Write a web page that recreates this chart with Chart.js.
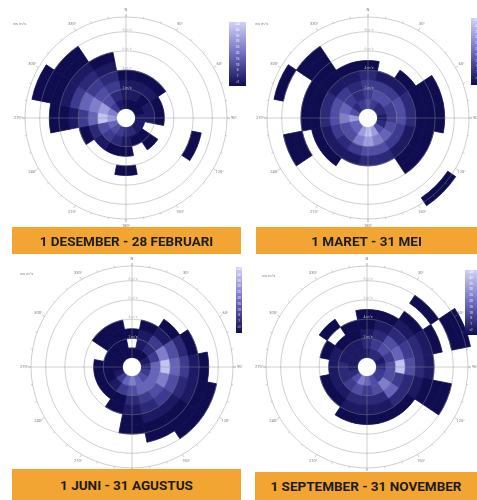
<!DOCTYPE html>
<html>
<head>
<meta charset="utf-8">
<script src="https://cdn.jsdelivr.net/npm/chart.js@4.4.1/dist/chart.umd.min.js"></script>
<style>
  html, body { margin: 0; padding: 0; background: #fff; }
  body { width: 477px; height: 500px; overflow: hidden; position: relative; font-family: Roboto, sans-serif; }
  canvas.rose { position: absolute; }
  .bar { position: absolute; background: #f2a532; color: #1c1c1c; font-weight: bold; font-size: 13.5px;
         display: flex; align-items: center; justify-content: center; z-index: 2; }
  .cbar { position: absolute; background: linear-gradient(#d2d2f8, #6f6dc0 50%, #0f0c4f); overflow: hidden; }
  .cbar span { display: block; color: #fff; font-size: 3px; line-height: 5.8px; text-align: center; }
  .unit { position: absolute; font-size: 4px; color: #888; }
</style>
</head>
<body>
<script>
// sectors, clockwise from north
const directions = ['N', 'NNE', 'NE', 'ENE', 'E', 'ESE', 'SE', 'SSE', 'S', 'SSW', 'SW', 'WSW', 'W', 'WNW', 'NW', 'NNW'];
// speed bins (rings, inside out)
const speedBins = ['0-1', '1-2', '2-3', '3-4', '4-5', '5-6', '6-7', '7-8', '8-9', '9-10'];
const circleLabels = ['2 m/s', '4 m/s', '6 m/s', '8 m/s'];
const degreeLabels = ['N', '30°', '60°', '90°', '120°', '150°', '180°', '210°', '240°', '270°', '300°', '330°'];
const colorbarLabels = ['>45', '40', '35', '30', '25', '20', '15', '10', '5', '1', '<1'];
const seasonTitles = ['1 DESEMBER - 28 FEBRUARI', '1 MARET - 31 MEI', '1 JUNI - 31 AGUSTUS', '1 SEPTEMBER - 31 NOVEMBER'];
const palette = ['#0f0c4f', '#1d1a63', '#2c2a78', '#3d3b8f', '#504ea4', '#6664b8', '#807ecb', '#9e9dde', '#c2c2f3'];

// frequency class per cell, one list per sector (ring 0 first), 0 = no data
const desFeb = [
  [1, 2, 2, 1],
  [1, 2, 2, 1],
  [1, 1, 2, 1],
  [1, 2, 1],
  [2, 2, 1],
  [2, 0, 0, 0, 0, 0, 1],
  [2, 1, 1],
  [3, 1],
  [3, 2, 1, 0, 1],
  [4, 3, 1],
  [5, 4, 2],
  [6, 5, 3, 1],
  [8, 9, 6, 4, 2, 1, 1],
  [7, 8, 7, 6, 4, 2, 1, 1, 1],
  [4, 5, 5, 4, 3, 2, 1, 1],
  [2, 3, 4, 3, 2, 1]
];
const marMei = [
  [5, 4, 4, 3, 1],
  [4, 5, 4, 2],
  [3, 5, 4, 2, 1],
  [3, 4, 5, 3, 1, 1, 1],
  [2, 4, 5, 3, 1, 1, 1],
  [3, 5, 4, 2, 1, 1],
  [5, 6, 4, 2, 1, 1, 0, 0, 0, 1],
  [8, 7, 5, 3],
  [9, 8, 5, 3],
  [8, 7, 4, 2],
  [6, 5, 3, 2, 1],
  [6, 5, 4, 2, 1, 0, 1, 1],
  [8, 7, 5, 3, 1, 1],
  [5, 6, 5, 3, 1, 1, 0, 0, 1],
  [3, 4, 4, 2, 1, 1, 1, 1],
  [4, 3, 3, 2, 1]
];
const junAgu = [
  [1, 0, 1],
  [1, 2, 2, 1],
  [1, 3, 4, 2, 1],
  [2, 4, 7, 5, 3, 1],
  [3, 6, 9, 6, 4, 2, 1],
  [4, 6, 7, 5, 3, 2, 1, 1],
  [5, 6, 5, 4, 2, 1, 1, 1],
  [6, 6, 4, 3, 2, 1, 1],
  [7, 5, 3, 2, 1, 1],
  [6, 4, 1, 1],
  [4, 2, 1],
  [2, 1, 1],
  [1, 1, 1],
  [1, 1],
  [1, 1, 1, 1],
  [1, 1, 1, 1]
];
const sepNov = [
  [2, 3, 2, 1, 1],
  [3, 4, 3, 2, 1],
  [3, 5, 5, 3, 2, 1, 0, 1],
  [2, 4, 6, 4, 3, 2, 1, 0, 1, 1],
  [3, 5, 9, 5, 3, 2],
  [4, 5, 4, 3, 2, 1, 1, 1],
  [4, 7, 6, 3, 1],
  [5, 5, 3, 2, 1],
  [6, 4, 3, 2, 1],
  [7, 5, 3, 2, 1],
  [5, 4, 2, 1],
  [3, 3, 2, 1],
  [2, 3, 2],
  [2, 2, 2, 1],
  [2, 2, 1, 0, 1],
  [2, 2, 1, 1]
];

const HOLE_R = 9.5;
const RING_W = 9.6;
const FRAME_R = 101;
const SIZE = 240;

const panels = [
  { season: desFeb, cx: 126, cy: 118, bar: [12, 227, 229, 27], cbar: [229, 22, 17, 64], unit: [13, 21] },
  { season: marMei, cx: 368, cy: 118, bar: [256, 227, 221, 27], cbar: [471, 18, 12, 67], unit: [255, 21] },
  { season: junAgu, cx: 132, cy: 367, bar: [12, 469, 229, 31], cbar: [236, 267, 6, 66], unit: [20, 271] },
  { season: sepNov, cx: 367, cy: 367, bar: [255, 472, 222, 28], cbar: [465, 270, 12, 65], unit: [262, 273] }
];

const roseGrid = {
  id: 'roseGrid',
  afterDatasetsDraw(chart) {
    const ctx = chart.ctx;
    const arc = chart.getDatasetMeta(0).data[0];
    const cx = arc.x, cy = arc.y;
    ctx.save();
    ctx.strokeStyle = 'rgba(140,140,140,0.7)';
    ctx.lineWidth = 0.6;
    // speed circles
    circleLabels.forEach((t, i) => {
      ctx.beginPath();
      ctx.arc(cx, cy, HOLE_R + RING_W * 2 * (i + 1), 0, Math.PI * 2);
      ctx.stroke();
    });
    // outer frame
    ctx.beginPath();
    ctx.arc(cx, cy, FRAME_R, 0, Math.PI * 2);
    ctx.stroke();
    // crosshair
    ctx.beginPath();
    [[1, 0], [-1, 0], [0, 1], [0, -1]].forEach(([dx, dy]) => {
      ctx.moveTo(cx + dx * HOLE_R, cy + dy * HOLE_R);
      ctx.lineTo(cx + dx * (FRAME_R + 3), cy + dy * (FRAME_R + 3));
    });
    ctx.stroke();
    // ticks every 10 degrees
    ctx.beginPath();
    for (let a = 0; a < 360; a += 10) {
      const t = (a - 90) * Math.PI / 180;
      const len = a % 30 === 0 ? 3 : 1.8;
      ctx.moveTo(cx + Math.cos(t) * FRAME_R, cy + Math.sin(t) * FRAME_R);
      ctx.lineTo(cx + Math.cos(t) * (FRAME_R + len), cy + Math.sin(t) * (FRAME_R + len));
    }
    ctx.stroke();
    // labels
    ctx.fillStyle = '#7a7a7a';
    ctx.font = '4px Roboto, sans-serif';
    ctx.textAlign = 'center';
    ctx.textBaseline = 'middle';
    degreeLabels.forEach((txt, i) => {
      const t = (i * 30 - 90) * Math.PI / 180;
      ctx.fillText(txt, cx + Math.cos(t) * (FRAME_R + 7), cy + Math.sin(t) * (FRAME_R + 7));
    });
    ctx.fillStyle = '#b8b8c8';
    ctx.font = '3.5px Roboto, sans-serif';
    circleLabels.forEach((txt, i) => {
      ctx.fillText(txt, cx + 1, cy - (HOLE_R + RING_W * 2 * (i + 1)) - 1.5);
    });
    ctx.restore();
  }
};

function ringColors(season, k) {
  return season.map(cells => {
    const level = cells[k] || 0;
    return level ? palette[level - 1] : 'rgba(255,255,255,0)';
  });
}

panels.forEach((p, idx) => {
  const canvas = document.createElement('canvas');
  canvas.className = 'rose';
  canvas.width = SIZE;
  canvas.height = SIZE;
  canvas.style.left = (p.cx - SIZE / 2) + 'px';
  canvas.style.top = (p.cy - SIZE / 2) + 'px';
  document.body.appendChild(canvas);

  // outer ring first for the doughnut
  const datasets = [];
  for (let k = speedBins.length - 1; k >= 0; k--) {
    const colors = ringColors(p.season, k);
    datasets.push({
      label: speedBins[k],
      data: directions.map(() => 1),
      backgroundColor: colors,
      borderColor: colors,
      borderWidth: 0.8
    });
  }
  const outerR = HOLE_R + speedBins.length * RING_W;

  new Chart(canvas, {
    type: 'doughnut',
    data: { labels: directions, datasets },
    options: {
      responsive: false,
      animation: false,
      events: [],
      rotation: -180 / directions.length,
      radius: outerR,
      cutout: (100 * HOLE_R / outerR) + '%',
      plugins: { legend: { display: false }, tooltip: { enabled: false } }
    },
    plugins: [roseGrid]
  });

  const bar = document.createElement('div');
  bar.className = 'bar';
  bar.style.left = p.bar[0] + 'px';
  bar.style.top = p.bar[1] + 'px';
  bar.style.width = p.bar[2] + 'px';
  bar.style.height = p.bar[3] + 'px';
  bar.textContent = seasonTitles[idx];
  document.body.appendChild(bar);

  const cb = document.createElement('div');
  cb.className = 'cbar';
  cb.style.left = p.cbar[0] + 'px';
  cb.style.top = p.cbar[1] + 'px';
  cb.style.width = p.cbar[2] + 'px';
  cb.style.height = p.cbar[3] + 'px';
  colorbarLabels.forEach(t => {
    const s = document.createElement('span');
    s.textContent = t;
    cb.appendChild(s);
  });
  document.body.appendChild(cb);

  const unit = document.createElement('div');
  unit.className = 'unit';
  unit.style.left = p.unit[0] + 'px';
  unit.style.top = p.unit[1] + 'px';
  unit.textContent = 'ws m/s';
  document.body.appendChild(unit);
});
</script>
</body>
</html>
